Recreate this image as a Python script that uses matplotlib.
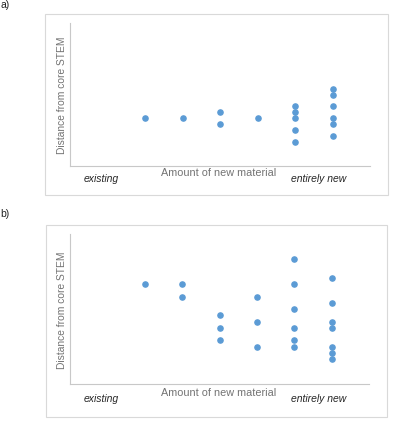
import matplotlib.pyplot as plt
from matplotlib.patches import Rectangle
plt.rcParams['font.family'] = ['Liberation Sans', 'DejaVu Sans']

# dot plot columns (position along "amount of new material") and distance values
cols_a = [1, 2, 3, 3, 4, 5, 5, 5, 5, 5, 6, 6, 6, 6, 6, 6]
dist_a = [8, 8, 9, 7, 8, 10, 9, 8, 6, 4, 13, 12, 10, 8, 7, 5]
cols_b = [1, 2, 2, 3, 3, 3, 4, 4, 4, 5, 5, 5, 5, 5, 5, 6, 6, 6, 6, 6, 6, 6]
dist_b = [16, 16, 14, 11, 9, 7, 14, 10, 6, 20, 16, 12, 9, 7, 6, 17, 13, 10, 9, 6, 5, 4]

W, H = 398, 424
fig = plt.figure(figsize=(W / 100, H / 100), dpi=100)


def px(x0, y0, x1, y1):
    # pixel box -> figure fraction [left, bottom, width, height]
    return [x0 / W, 1 - y1 / H, (x1 - x0) / W, (y1 - y0) / H]


def panel(cols, dist, box, axbox, ytxt, label, label_y):
    l, b, w, h = px(*box)
    fig.patches.append(Rectangle((l, b), w, h, transform=fig.transFigure,
                                 fill=False, edgecolor='#d9d9d9', linewidth=0.8))
    ax = fig.add_axes(px(*axbox))
    ax.scatter(cols, dist, s=14, color='#5b9bd5', zorder=3)
    ax.set_xlim(-1, 7)
    ax.set_ylim(0, 24)
    ax.set_xticks([])
    ax.set_yticks([])
    for s in ['top', 'right']:
        ax.spines[s].set_visible(False)
    for s in ['left', 'bottom']:
        ax.spines[s].set_color('#c8c8c8')
        ax.spines[s].set_linewidth(0.8)
    fig.text(101 / W, 1 - (ytxt + 6) / H, 'existing', style='italic',
             fontsize=7.5, color='#262626', ha='center', va='center')
    fig.text(219 / W, 1 - ytxt / H, 'Amount of new material',
             fontsize=7.8, color='#737373', ha='center', va='center')
    fig.text(319 / W, 1 - (ytxt + 6) / H, 'entirely new', style='italic',
             fontsize=7.5, color='#262626', ha='center', va='center')
    fig.text(62 / W, 1 - ((axbox[1] + axbox[3]) / 2 + 1) / H, 'Distance from core STEM',
             rotation=90, fontsize=7.4, color='#737373', ha='center', va='center')
    fig.text(0.5 / W, 1 - label_y / H, label, fontsize=7.5, color='#222222',
             ha='left', va='center')
    return ax


panel(cols_a, dist_a, (45, 14, 388, 195), (70, 23, 370, 166), 173, 'a)', 5)
panel(cols_b, dist_b, (46, 225, 387, 417), (70, 234, 369, 384), 393, 'b)', 214)

plt.savefig('out.png', dpi=100)
